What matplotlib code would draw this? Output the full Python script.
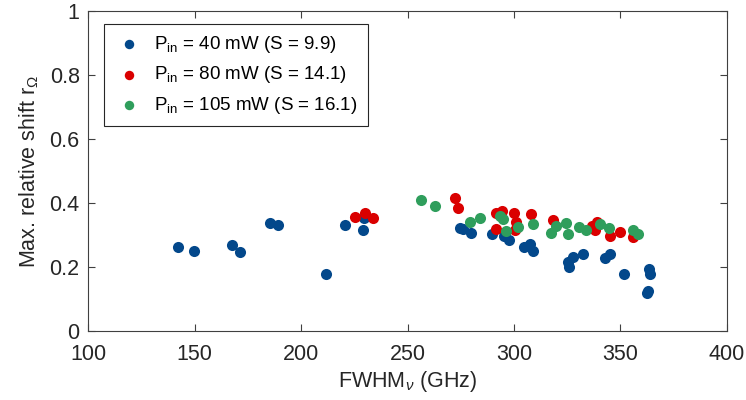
import numpy as np
import matplotlib
matplotlib.use("Agg")
import matplotlib.pyplot as plt

plt.rcParams["font.family"] = ["Liberation Sans", "DejaVu Sans"]
plt.rcParams["mathtext.fontset"] = "custom"
plt.rcParams["mathtext.rm"] = "Liberation Sans"
plt.rcParams["mathtext.it"] = "Liberation Sans:italic"
plt.rcParams["mathtext.sf"] = "Liberation Sans"

BLUE = "#03488B"; RED = "#DA0000"; GREEN = "#2F9E5C"

# P_in = 40 mW
x40 = [142.3, 149.8, 167.6, 171.4, 185.4, 189.2, 211.7, 220.5, 229.2, 229.4,
       274.6, 276.2, 279.8, 289.5, 295.5, 297.8, 304.7, 307.5, 309.1,
       325.5, 326.0, 327.9, 332.5, 342.7, 345.1, 351.5, 363.2, 364.0, 362.3, 362.7]
y40 = [0.263, 0.250, 0.269, 0.247, 0.338, 0.331, 0.178, 0.330, 0.316, 0.352,
       0.321, 0.318, 0.305, 0.303, 0.297, 0.284, 0.263, 0.271, 0.251,
       0.217, 0.199, 0.230, 0.241, 0.227, 0.241, 0.178, 0.195, 0.178, 0.118, 0.126]
# P_in = 80 mW
x80 = [225.5, 229.9, 234.0, 272.2, 273.5, 291.5, 294.4, 291.5, 300.2, 301.0,
       300.5, 308.1, 318.2, 336.5, 338.8, 338.0, 345.1, 349.9, 355.7]
y80 = [0.355, 0.370, 0.353, 0.415, 0.384, 0.370, 0.374, 0.318, 0.368, 0.342,
       0.316, 0.366, 0.347, 0.329, 0.340, 0.316, 0.297, 0.308, 0.295]
# P_in = 105 mW
x105 = [256.3, 263.1, 279.3, 284.0, 293.4, 294.7, 296.1, 302.0, 309.1, 317.4,
        319.7, 324.3, 325.4, 330.7, 333.6, 340.4, 344.6, 356.0, 358.4]
y105 = [0.410, 0.390, 0.341, 0.352, 0.360, 0.349, 0.313, 0.324, 0.333, 0.305,
        0.328, 0.339, 0.302, 0.326, 0.316, 0.333, 0.321, 0.316, 0.302]

fig = plt.figure(figsize=(7.46, 4.0), dpi=100)
ax = fig.add_axes([0.118, 0.1725, 0.8565, 0.8])
ms = 64
ax.scatter(x40, y40, s=ms, color=BLUE, lw=0, label=r"P$_{\rm in}$ = 40 mW (S = 9.9)", zorder=3)
ax.scatter(x80, y80, s=ms, color=RED, lw=0, label=r"P$_{\rm in}$ = 80 mW (S = 14.1)", zorder=3)
ax.scatter(x105, y105, s=ms, color=GREEN, lw=0, label=r"P$_{\rm in}$ = 105 mW (S = 16.1)", zorder=4)

ax.set_xlim(100, 400); ax.set_ylim(0, 1)
ax.set_xticks(np.arange(100, 401, 50))
ax.set_yticks([0, 0.2, 0.4, 0.6, 0.8, 1])
ax.set_yticklabels(["0", "0.2", "0.4", "0.6", "0.8", "1"])
ax.tick_params(direction="in", top=True, right=True, labelsize=15.5, length=5,
               color="#404040", labelcolor="#262626", width=0.8)
ax.tick_params(axis="x", pad=9)
ax.tick_params(axis="y", pad=6)
for sp in ax.spines.values():
    sp.set_color("#404040"); sp.set_linewidth(0.8)
ax.set_xlabel(r"FWHM$_\nu$ (GHz)", fontsize=15.5, color="#262626", labelpad=3)
ax.set_ylabel(r"Max. relative shift r$_\Omega$", fontsize=15.5, color="#262626", labelpad=6)

leg = ax.legend(loc="upper left", bbox_to_anchor=(0.025, 0.96), borderaxespad=0,
                fontsize=13.5, fancybox=False, edgecolor="#262626", framealpha=1,
                markerscale=0.85, handletextpad=0.5, borderpad=0.55,
                labelspacing=0.5, handlelength=1.6)
leg.get_frame().set_linewidth(0.8)

fig.savefig("out.png", dpi=100)
